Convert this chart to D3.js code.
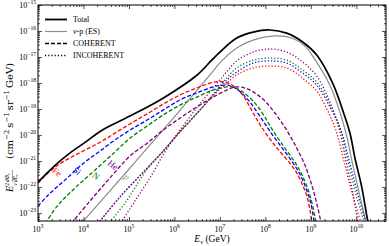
<!DOCTYPE html>
<html><head><meta charset="utf-8">
<script src="https://cdn.jsdelivr.net/npm/d3@7"></script>
<style>body{margin:0;background:#fff}svg{display:block}text{font-family:"Liberation Serif","DejaVu Serif",serif}</style>
</head><body>
<svg id="c" width="389" height="246"></svg>
<script>
// ---- data ([log10 E/GeV, log10 flux]) ----
const xTickExps = [3,4,5,6,7,8,9,10];
const yTickExps = [-23,-22,-21,-20,-19,-18,-17,-16,-15];
const legendLabels = ["Total","\u03bd-p (ES)","COHERENT","INCOHERENT"];
const nuclei = ["Fe","Si","N","He"];
const nucleusColors = ["#ff0000","#0000ff","#008000","#800080"];

const total = [[3.00,-21.81],[3.22,-21.42],[3.48,-21.00],[3.70,-20.69],[4.01,-20.31],[4.41,-19.81],[5.02,-19.27],[5.75,-18.58],[6.50,-17.69],[6.82,-17.12],[7.00,-16.81],[7.37,-16.27],[7.73,-16.04],[8.10,-15.96],[8.47,-16.08],[8.82,-16.42],[9.13,-16.92],[9.48,-18.00],[9.70,-19.04],[9.86,-19.92],[9.97,-20.88],[10.12,-22.00],[10.25,-23.27],[10.28,-23.45]];
const esProton = [[3.95,-23.40],[4.98,-21.35],[5.90,-19.50],[6.56,-18.15],[6.85,-17.54],[7.04,-17.15],[7.37,-16.65],[7.73,-16.35],[8.21,-16.19],[8.58,-16.27],[8.87,-16.58],[9.07,-17.04],[9.42,-18.08],[9.64,-19.12],[9.79,-20.04],[9.90,-20.96],[10.05,-22.12],[10.22,-23.40]];

const cohFe = [[3.00,-21.85],[3.22,-21.46],[3.44,-21.15],[3.70,-20.88],[4.03,-20.58],[4.41,-20.23],[4.76,-19.85],[5.13,-19.46],[5.46,-19.12],[5.79,-18.77],[6.12,-18.46],[6.49,-18.19],[6.78,-18.00],[7.00,-17.94],[7.18,-18.00],[7.33,-18.15],[7.51,-18.48],[7.66,-18.92],[7.79,-19.33],[7.92,-19.70],[8.14,-20.24],[8.32,-20.63],[8.54,-21.08],[8.69,-21.45],[8.82,-21.92],[8.93,-22.45],[9.03,-23.40]];
const cohSi = [[3.00,-22.73],[3.22,-22.31],[3.59,-21.73],[4.03,-21.04],[4.36,-20.62],[4.69,-20.19],[5.02,-19.81],[5.40,-19.42],[5.75,-19.04],[6.12,-18.65],[6.49,-18.38],[6.85,-18.15],[7.15,-18.08],[7.33,-18.19],[7.48,-18.38],[7.66,-18.73],[7.84,-19.17],[7.99,-19.56],[8.10,-19.85],[8.32,-20.38],[8.54,-20.90],[8.76,-21.50],[8.91,-22.12],[9.00,-22.62],[9.08,-23.40]];
const cohN = [[3.16,-23.40],[3.44,-22.69],[3.81,-22.04],[4.25,-21.35],[4.69,-20.65],[5.02,-20.12],[5.40,-19.65],[5.75,-19.23],[6.12,-18.85],[6.49,-18.54],[6.85,-18.27],[7.15,-18.15],[7.29,-18.15],[7.44,-18.27],[7.59,-18.46],[7.81,-18.85],[7.99,-19.31],[8.16,-19.81],[8.43,-20.50],[8.65,-21.04],[8.82,-21.58],[8.98,-22.31],[9.12,-23.40]];
const cohHe = [[3.73,-23.40],[4.14,-22.54],[4.54,-21.73],[5.02,-20.81],[5.40,-20.31],[5.75,-19.81],[6.12,-19.35],[6.49,-18.92],[6.85,-18.54],[7.15,-18.27],[7.33,-18.15],[7.55,-18.19],[7.77,-18.38],[7.99,-18.69],[8.21,-19.15],[8.47,-19.81],[8.69,-20.50],[8.87,-21.15],[9.02,-21.92],[9.13,-22.62],[9.23,-23.40]];

const incFe = [[4.32,-23.40],[4.80,-22.38],[5.40,-21.27],[5.75,-20.62],[6.12,-19.88],[6.56,-19.04],[6.89,-18.42],[7.11,-18.08],[7.37,-17.69],[7.73,-17.42],[8.10,-17.35],[8.47,-17.42],[8.82,-17.81],[9.13,-18.31],[9.33,-18.92],[9.55,-19.81],[9.75,-21.15],[9.92,-22.31],[10.11,-23.40]];
const incSi = [[4.32,-23.40],[4.80,-22.38],[5.40,-21.27],[5.75,-20.62],[6.12,-19.88],[6.56,-19.04],[6.89,-18.38],[7.11,-17.96],[7.37,-17.58],[7.73,-17.23],[8.10,-17.15],[8.47,-17.23],[8.82,-17.62],[9.13,-18.08],[9.42,-18.92],[9.66,-19.81],[9.84,-20.96],[10.01,-22.12],[10.22,-23.40]];
const incN = [[4.55,-23.40],[4.91,-22.62],[5.40,-21.31],[5.75,-20.62],[6.12,-19.88],[6.56,-19.04],[6.89,-18.35],[7.11,-17.88],[7.37,-17.42],[7.73,-17.12],[8.10,-17.04],[8.47,-17.12],[8.82,-17.50],[9.13,-17.96],[9.42,-18.81],[9.66,-19.81],[9.81,-20.96],[9.97,-22.12],[10.18,-23.40]];
const incHe = [[4.81,-23.40],[5.13,-22.54],[5.46,-21.65],[5.79,-20.65],[6.12,-19.81],[6.49,-18.96],[6.85,-18.19],[7.11,-17.65],[7.37,-17.15],[7.73,-16.81],[8.10,-16.69],[8.47,-16.81],[8.82,-17.19],[9.13,-17.73],[9.42,-18.73],[9.64,-19.88],[9.79,-21.15],[9.92,-22.19],[10.04,-23.40]];

const coherent = [cohFe, cohSi, cohN, cohHe];
const incoherent = [incFe, incSi, incN, incHe];

// ---- layout ----
const L = 38, R = 386, T = 5, B = 221;
const svg = d3.select("#c");
const x = d3.scaleLog().domain([1e3, 4.5e10]).range([L, R]);
const y = d3.scaleLog().domain([5e-24, 1e-15]).range([B, T]);

svg.append("defs").append("clipPath").attr("id","clip")
  .append("rect").attr("x",L).attr("y",T).attr("width",R-L).attr("height",B-T);

const line = d3.line()
  .x(d => x(Math.pow(10, d[0])))
  .y(d => y(Math.pow(10, d[1])))
  .curve(d3.curveCatmullRom.alpha(0.5));

const plot = svg.append("g").attr("clip-path","url(#clip)");

plot.append("path").attr("d", line(esProton)).attr("fill","none")
  .attr("stroke","#8c8c8c").attr("stroke-width",1.2);

coherent.forEach((s,i) => {
  plot.append("path").attr("d", line(s)).attr("fill","none")
    .attr("stroke", nucleusColors[i]).attr("stroke-width",1.3)
    .attr("stroke-dasharray","4,2");
});
incoherent.forEach((s,i) => {
  plot.append("path").attr("d", line(s)).attr("fill","none")
    .attr("stroke", nucleusColors[i]).attr("stroke-width",1.3)
    .attr("stroke-dasharray","1.2,2").attr("stroke-dashoffset", i*0.8);
});
plot.append("path").attr("d", line(total)).attr("fill","none")
  .attr("stroke","#000").attr("stroke-width",1.7);

// ---- ticks ----
const xMaj = xTickExps.map(e => Math.pow(10,e));
const xMin = [];
xTickExps.forEach(e => { for (let m=2;m<=9;m++){ const v=m*Math.pow(10,e); if (v<=4.5e10) xMin.push(v);} });
const yMaj = yTickExps.map(e => Math.pow(10,e));
const yMin = [];
[-24].concat(yTickExps).forEach(e => { for (let m=2;m<=9;m++){ const v=m*Math.pow(10,e); if (v>=5e-24 && v<=1e-15) yMin.push(v);} });

function ax(gen, vals, size, tr){
  const g = svg.append("g").attr("transform", tr)
    .call(gen.tickValues(vals).tickSize(size).tickFormat(""));
  g.select(".domain").remove();
  g.selectAll("line").attr("stroke","#000").attr("stroke-width",0.7);
}
ax(d3.axisBottom(x), xMaj, -4, `translate(0,${B})`);
ax(d3.axisBottom(x), xMin, -2, `translate(0,${B})`);
ax(d3.axisTop(x), xMaj, -4, `translate(0,${T})`);
ax(d3.axisTop(x), xMin, -2, `translate(0,${T})`);
ax(d3.axisLeft(y), yMaj, -4, `translate(${L},0)`);
ax(d3.axisLeft(y), yMin, -2, `translate(${L},0)`);
ax(d3.axisRight(y), yMaj, -4, `translate(${R},0)`);
ax(d3.axisRight(y), yMin, -2, `translate(${R},0)`);

svg.append("rect").attr("x",L).attr("y",T).attr("width",R-L).attr("height",B-T)
  .attr("fill","none").attr("stroke","#000").attr("stroke-width",1);

// tick labels
xTickExps.forEach(e => {
  const t = svg.append("text").attr("x", x(Math.pow(10,e))).attr("y", 232)
    .attr("text-anchor","middle").attr("font-size",8).attr("fill","#000");
  t.append("tspan").text("10");
  t.append("tspan").attr("dy",-4).attr("font-size",5.6).text(String(e));
});
yTickExps.forEach(e => {
  const t = svg.append("text").attr("x", 36).attr("y", y(Math.pow(10,e))+2.8)
    .attr("text-anchor","end").attr("font-size",8).attr("fill","#000");
  t.append("tspan").text("10");
  t.append("tspan").attr("dy",-4).attr("font-size",5.6).text("\u2212"+String(-e));
});

// axis labels
const xl = svg.append("text").attr("x",(L+R)/2).attr("y",242).attr("text-anchor","middle")
  .attr("font-size",9.5);
xl.append("tspan").attr("font-style","italic").text("E");
xl.append("tspan").attr("font-style","italic").attr("font-size",6.5).attr("dy",2).text("\u03bd");
xl.append("tspan").attr("dy",-2).text(" (GeV)");

const yl = svg.append("g").attr("transform","translate(13,192) rotate(-90)");
yl.append("text").attr("x",0).attr("y",0).attr("font-size",10).attr("font-style","italic").text("E");
const num = yl.append("text").attr("x",6.3).attr("y",-3.6).attr("font-size",5.8);
num.append("tspan").text("2");
num.append("tspan").attr("dx",0.6).attr("font-style","italic").text("d\u03a6");
num.append("tspan").attr("font-size",4.2).attr("dy",1).attr("font-style","italic").text("\u03bd");
const den = yl.append("text").attr("x",6.3).attr("y",4.2).attr("font-size",5.8);
den.append("tspan").attr("font-style","italic").text("\u03bd");
den.append("tspan").attr("dx",0.8).attr("font-style","italic").text("dE");
den.append("tspan").attr("font-size",4.2).attr("dy",1).attr("font-style","italic").text("\u03bd");
yl.append("line").attr("x1",9.6).attr("x2",22).attr("y1",-0.6).attr("y2",-0.6).attr("stroke","#000").attr("stroke-width",0.4);
const unit = yl.append("text").attr("x",33).attr("y",0).attr("font-size",10)
  .style("font-family","'DejaVu Serif',serif");
unit.append("tspan").text("(cm");
unit.append("tspan").attr("dy",-4).attr("font-size",7).text("\u22122");
unit.append("tspan").attr("dy",4).attr("dx",2).text("s");
unit.append("tspan").attr("dy",-4).attr("font-size",7).text("\u22121");
unit.append("tspan").attr("dy",4).attr("dx",2).text("sr");
unit.append("tspan").attr("dy",-4).attr("font-size",7).text("\u22121");
unit.append("tspan").attr("dy",4).attr("dx",2).text("GeV)");

// legend
const legStyles = [
  {stroke:"#000", w:1.8, dash:null},
  {stroke:"#8c8c8c", w:1.2, dash:null},
  {stroke:"#000", w:1.3, dash:"4,2"},
  {stroke:"#000", w:1.3, dash:"1.2,2"}
];
legendLabels.forEach((lab,i) => {
  const yy = 19.5 + i*12;
  svg.append("line").attr("x1",45).attr("x2",67).attr("y1",yy).attr("y2",yy)
    .attr("stroke",legStyles[i].stroke).attr("stroke-width",legStyles[i].w)
    .attr("stroke-dasharray",legStyles[i].dash);
  const t = svg.append("text").attr("x",73).attr("y",yy+2.8).attr("font-size",8);
  if (i===1){ t.append("tspan").attr("font-style","italic").text("\u03bd"); t.append("tspan").text("-p (ES)"); }
  else t.text(lab);
});

// curve labels
const labPos = [[57,172],[77,171],[96,176],[113,165]];
nuclei.forEach((n,i) => {
  svg.append("text").attr("transform",`translate(${labPos[i][0]},${labPos[i][1]}) rotate(40)`)
    .attr("text-anchor","middle").attr("dominant-baseline","central")
    .attr("font-size",9).attr("fill",nucleusColors[i]).text(n);
});
svg.append("text").attr("transform","translate(127,177) rotate(40)")
  .attr("text-anchor","middle").attr("dominant-baseline","central")
  .attr("font-size",9).attr("font-style","italic").attr("fill","#8c8c8c").text("p");
</script>
</body></html>
